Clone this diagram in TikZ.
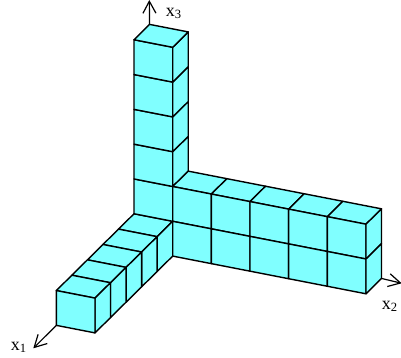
\documentclass[tikz,border=0pt]{standalone}
\usepackage{fontspec}
\setmainfont{Liberation Serif}
\usetikzlibrary{arrows.meta}
\definecolor{cubecyan}{RGB}{128,255,255}
\tikzset{
  cell/.style={
    draw=black,
    fill=cubecyan,
    line width=1.4pt,
    line join=round
  },
  axis/.style={
    -{Straight Barb[length=12pt,width=13pt,line width=1.2pt]},
    line width=1.2pt,
    draw=black
  },
  axislabel/.style={
    inner sep=0pt,
    font=\fontsize{18}{18}\selectfont
  }
}

\begin{document}
\begin{tikzpicture}[x={(-15.54pt,-15.36pt)}, y={(38.66pt,-7.54pt)}, z={(0pt,34.8pt)}]
  \useasboundingbox (-172.7pt,-136.7pt) rectangle (228.3pt,221.3pt);

  \coordinate (tip1) at (-139.4pt,-127pt);
  \coordinate (tip2) at (229pt,-62pt);
  \coordinate (tip3) at (-23.4pt,221.3pt);
  \coordinate (end1) at (5,-1,-1);
  \coordinate (end2) at (-1,5,-1);
  \coordinate (end3) at (-1,-1,5);

  \draw[axis] (end1) -- (tip1);
  \draw[axis] (end2) -- (tip2);
  \draw[axis] (end3) -- (tip3);

  % x1 arm
  \foreach \i/\n in {0/1,1/2,2/3,3/4,4/5} {
    \draw[cell] (\i,-1,0) -- (\n,-1,0) -- (\n,0,0) -- (\i,0,0) -- cycle;
    \draw[cell] (\i,0,0) -- (\n,0,0) -- (\n,0,-1) -- (\i,0,-1) -- cycle;
  }
  \draw[cell] (5,-1,0) -- (5,0,0) -- (5,0,-1) -- (5,-1,-1) -- cycle;

  % x3 arm
  \foreach \k/\n in {0/1,1/2,2/3,3/4,4/5} {
    \draw[cell] (0,-1,\k) -- (0,0,\k) -- (0,0,\n) -- (0,-1,\n) -- cycle;
  }
  \foreach \k/\n in {1/2,2/3,3/4,4/5} {
    \draw[cell] (0,0,\k) -- (-1,0,\k) -- (-1,0,\n) -- (0,0,\n) -- cycle;
  }
  \draw[cell] (0,-1,5) -- (0,0,5) -- (-1,0,5) -- (-1,-1,5) -- cycle;

  % x2 arm
  \foreach \j/\n in {0/1,1/2,2/3,3/4,4/5} {
    \draw[cell] (0,\j,1) -- (-1,\j,1) -- (-1,\n,1) -- (0,\n,1) -- cycle;
    \draw[cell] (0,\j,0) -- (0,\n,0) -- (0,\n,1) -- (0,\j,1) -- cycle;
    \draw[cell] (0,\j,-1) -- (0,\n,-1) -- (0,\n,0) -- (0,\j,0) -- cycle;
  }
  \draw[cell] (0,5,0) -- (-1,5,0) -- (-1,5,1) -- (0,5,1) -- cycle;
  \draw[cell] (0,5,-1) -- (-1,5,-1) -- (-1,5,0) -- (0,5,0) -- cycle;

  \node[axislabel, anchor=base west] (lab1) at (-162pt,-129pt) {x\textsubscript{1}};
  \node[axislabel, anchor=base west] (lab2) at (209pt,-88pt) {x\textsubscript{2}};
  \node[axislabel, anchor=base west] (lab3) at (-7pt,205pt) {x\textsubscript{3}};
\end{tikzpicture}
\end{document}
